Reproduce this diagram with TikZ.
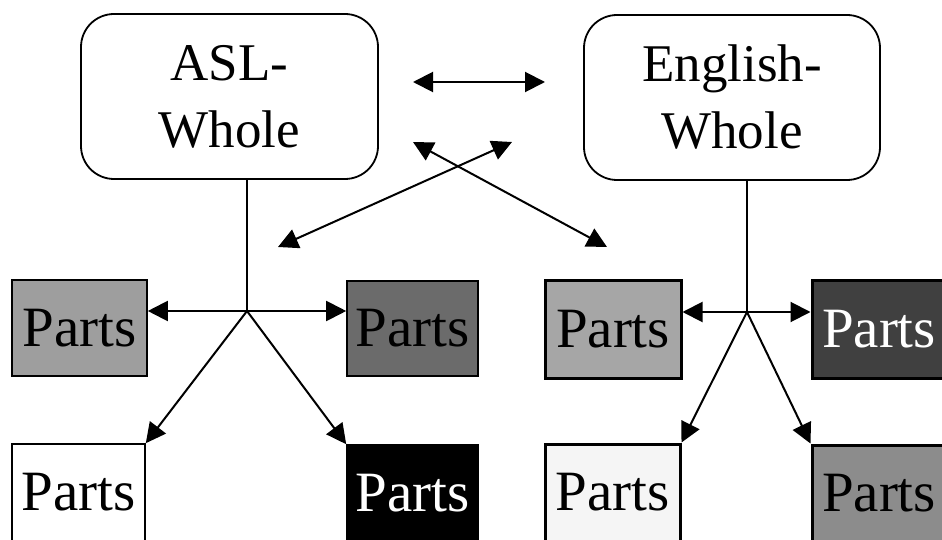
\documentclass[tikz,border=0pt]{standalone}
\usepackage{fontspec}
\setmainfont{Liberation Serif}
\usetikzlibrary{arrows.meta}
\begin{document}
\begin{tikzpicture}[x=1pt,y=-1pt,
  whole/.style={draw=black,line width=1.8pt,rounded corners=33pt,align=center,
    font=\fontsize{53}{67}\selectfont,inner sep=0pt},
  part/.style={draw=black,inner sep=0pt,font=\fontsize{57}{60}\selectfont},
  thinpart/.style={part,line width=1.6pt},
  thickpart/.style={part,line width=3pt},
  conn/.style={line width=2pt},
  arr/.style={conn,-{Triangle[length=20pt,width=20pt]}},
  darr/.style={conn,{Triangle[length=20pt,width=20pt]}-{Triangle[length=20pt,width=20pt]}}]
\useasboundingbox (0,0) rectangle (942,540);
\clip (0,0) rectangle (942,540);
\fill[white] (0,0) rectangle (942,540);

% whole boxes
\node[whole,minimum width=297pt,minimum height=165pt] (asl) at (229.5,96.5) {ASL-\\Whole};
\node[whole,minimum width=296pt,minimum height=165pt] (eng) at (732,97.5) {English-\\Whole};

% left group parts
\node[thinpart,fill=black!38,minimum width=135pt,minimum height=96pt] (ltl) at (79.5,328) {Parts};
\node[thinpart,fill=black!58,minimum width=131pt,minimum height=95pt] (ltr) at (412.5,328.5) {Parts};
\node[thinpart,fill=white,minimum width=133pt,minimum height=97pt] (lbl) at (78.5,492.5) {Parts};
\node[thinpart,fill=black,text=white,minimum width=131pt,minimum height=96pt] (lbr) at (412.5,493) {Parts};

% right group parts
\node[thickpart,fill=black!35,minimum width=136pt,minimum height=98pt] (rtl) at (613,329) {Parts};
\node[thickpart,fill=black!75,text=white,minimum width=134pt,minimum height=98pt] (rtr) at (879,329) {Parts};
\node[thickpart,fill=black!4,minimum width=135pt,minimum height=97pt] (rbl) at (612.5,492.5) {Parts};
\node[thickpart,fill=black!45,minimum width=134pt,minimum height=96pt] (rbr) at (879,493) {Parts};

% junctions
\coordinate (ja) at (247,311);
\coordinate (je) at (747,312);

% left tree
\draw[conn] (ja |- asl.south) -- (ja);
\draw[arr] (ja) -- (ltl.east |- ja);
\draw[arr] (ja) -- (ltr.west |- ja);
\draw[arr] (ja) -- (lbl.north east);
\draw[arr] (ja) -- (lbr.north west);

% right tree
\draw[conn] (je |- eng.south) -- (je);
\draw[arr] (je) -- (rtl.east |- je);
\draw[arr] (je) -- (rtr.west |- je);
\draw[arr] (je) -- (rbl.north east);
\draw[arr] (je) -- (rbr.north west);

% cross arrows
\coordinate (h1) at (413,82);
\coordinate (h2) at (545,82);
\coordinate (c1) at (413,142);
\coordinate (c2) at (607,247);
\coordinate (c3) at (278,247);
\coordinate (c4) at (512,142);
\draw[darr] (h1) -- (h2);
\draw[darr] (c1) -- (c2);
\draw[darr] (c3) -- (c4);
\end{tikzpicture}
\end{document}
